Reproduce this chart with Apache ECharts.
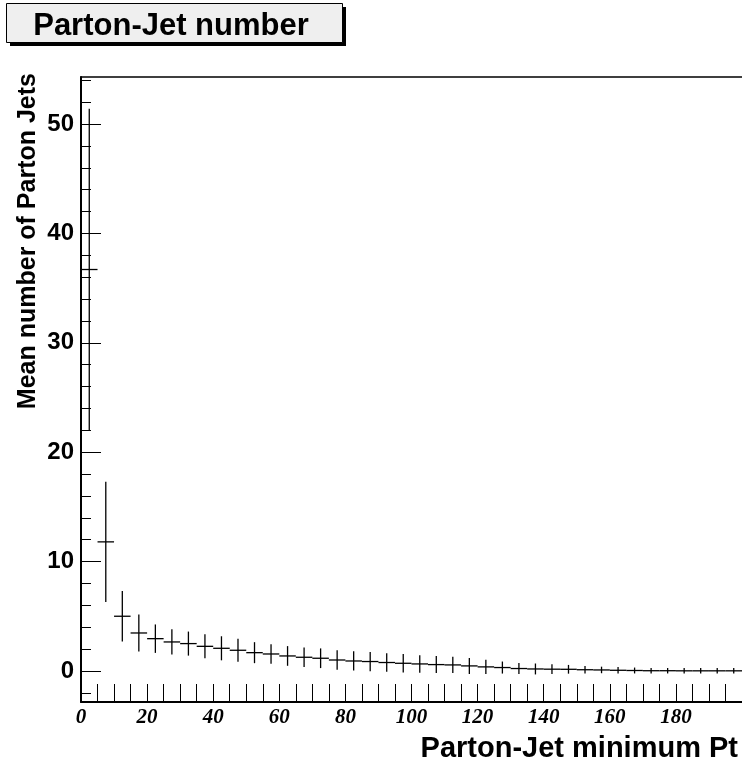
<!DOCTYPE html>
<html>
<head>
<meta charset="utf-8">
<script src="https://cdn.jsdelivr.net/npm/echarts@6/dist/echarts.min.js"></script>
<style>
  html, body { margin: 0; padding: 0; background: #ffffff; }
  #chart { width: 742px; height: 767px; }
</style>
</head>
<body>
<div id="chart"></div>
<script>
// Mean number of parton jets per event above a minimum Pt threshold (5 GeV bins)
const binWidth = 5;
const binCenters = [
  2.5, 7.5, 12.5, 17.5, 22.5, 27.5, 32.5, 37.5, 42.5, 47.5,
  52.5, 57.5, 62.5, 67.5, 72.5, 77.5, 82.5, 87.5, 92.5, 97.5,
  102.5, 107.5, 112.5, 117.5, 122.5, 127.5, 132.5, 137.5, 142.5, 147.5,
  152.5, 157.5, 162.5, 167.5, 172.5, 177.5, 182.5, 187.5, 192.5, 197.5
];
const meanJets = [
  36.7, 11.8, 5.0, 3.47, 2.95, 2.65, 2.5, 2.25, 2.07, 1.89,
  1.67, 1.55, 1.37, 1.25, 1.16, 1.0, 0.91, 0.86, 0.77, 0.70,
  0.64, 0.58, 0.55, 0.46, 0.37, 0.31, 0.22, 0.18, 0.16, 0.15,
  0.11, 0.09, 0.06, 0.04, 0.02, 0.02, 0.01, 0.01, 0.01, 0.01
];
const meanJetsErr = [
  14.7, 5.5, 2.3, 1.7, 1.3, 1.15, 1.1, 1.1, 1.1, 1.05,
  0.96, 0.9, 0.9, 0.9, 0.9, 0.9, 0.88, 0.88, 0.85, 0.85,
  0.8, 0.78, 0.75, 0.73, 0.65, 0.55, 0.5, 0.5, 0.45, 0.4,
  0.34, 0.3, 0.3, 0.27, 0.25, 0.25, 0.25, 0.25, 0.25, 0.25
];
const yMajorTicks = [0, 10, 20, 30, 40, 50];
const yMinorTicks = [-2, 2, 4, 6, 8, 12, 14, 16, 18, 22, 24, 26, 28, 32, 34, 36, 38, 42, 44, 46, 48, 52, 54];
const xTickLabels = [0, 20, 40, 60, 80, 100, 120, 140, 160, 180];
const xTicks = [];
for (let v = 5; v < 200; v += 5) xTicks.push(v);

const titleText = 'Parton-Jet number';
const xTitle = 'Parton-Jet minimum Pt';
const yTitle = 'Mean number of Parton Jets';

const Y_MIN = -2.84, Y_MAX = 54.3;
const sans = '"Liberation Sans", Arial, sans-serif';
const serif = '"Liberation Serif", "Times New Roman", serif';

const points = binCenters.map((x, i) => [x, meanJets[i], meanJetsErr[i]]);

const chart = echarts.init(document.getElementById('chart'));
chart.setOption({
  animation: false,
  backgroundColor: '#ffffff',
  grid: { left: 81, top: 77, width: 661, height: 625, containLabel: false },
  xAxis: [
    {
      type: 'value', min: 0, max: 200, position: 'bottom',
      axisLine: { show: true, onZero: false, lineStyle: { color: '#000', width: 2 } },
      axisTick: { show: true, inside: true, length: 18, customValues: xTicks, lineStyle: { color: '#000', width: 1 } },
      axisLabel: {
        show: true, customValues: xTickLabels, margin: 5,
        fontFamily: serif, fontStyle: 'italic', fontWeight: 'bold', fontSize: 21, color: '#000'
      },
      splitLine: { show: false }
    },
    {
      type: 'value', min: 0, max: 200, position: 'top',
      axisLine: { show: true, onZero: false, lineStyle: { color: '#000', width: 1.5 } },
      axisTick: { show: false }, axisLabel: { show: false }, splitLine: { show: false }
    }
  ],
  yAxis: [
    {
      type: 'value', min: Y_MIN, max: Y_MAX, position: 'left',
      axisLine: { show: true, onZero: false, lineStyle: { color: '#000', width: 2 } },
      axisTick: { show: true, inside: true, length: 20, customValues: yMajorTicks, lineStyle: { color: '#000', width: 1 } },
      axisLabel: {
        show: true, customValues: yMajorTicks, margin: 7,
        fontFamily: sans, fontWeight: 'bold', fontSize: 24, color: '#000'
      },
      splitLine: { show: false }
    },
    {
      type: 'value', min: Y_MIN, max: Y_MAX, position: 'left',
      axisLine: { show: false },
      axisTick: { show: true, inside: true, length: 10, customValues: yMinorTicks, lineStyle: { color: '#000', width: 1 } },
      axisLabel: { show: false }, splitLine: { show: false }
    }
  ],
  series: [
    {
      type: 'custom',
      xAxisIndex: 0, yAxisIndex: 0,
      data: points,
      clip: true,
      renderItem: function (params, api) {
        const x = api.value(0), y = api.value(1), e = api.value(2);
        const c = api.coord([x, y]);
        const left = api.coord([x - binWidth / 2, y]);
        const right = api.coord([x + binWidth / 2, y]);
        const top = api.coord([x, y + e]);
        const bottom = api.coord([x, y - e]);
        const style = { stroke: '#000', lineWidth: 1.3 };
        return {
          type: 'group',
          children: [
            { type: 'line', shape: { x1: left[0], y1: c[1], x2: right[0], y2: c[1] }, style: style },
            { type: 'line', shape: { x1: c[0], y1: top[1], x2: c[0], y2: bottom[1] }, style: style }
          ]
        };
      }
    }
  ],
  graphic: [
    { type: 'rect', shape: { x: 10, y: 7, width: 336, height: 39 }, style: { fill: '#000' }, z: 10 },
    { type: 'rect', shape: { x: 6.5, y: 3.5, width: 336, height: 39 }, style: { fill: '#efefef', stroke: '#000', lineWidth: 1 }, z: 11 },
    {
      type: 'text', x: 171, y: 26, z: 12,
      style: { text: titleText, fill: '#000', font: 'bold 31px ' + sans, align: 'center', verticalAlign: 'middle' }
    },
    {
      type: 'text', x: 738, y: 749,
      style: { text: xTitle, fill: '#000', font: 'bold 29px ' + sans, align: 'right', verticalAlign: 'middle' }
    },
    {
      type: 'text', x: 28, y: 73, rotation: Math.PI / 2,
      style: { text: yTitle, fill: '#000', font: 'bold 25px ' + sans, align: 'right', verticalAlign: 'middle' }
    }
  ]
});
</script>
</body>
</html>
